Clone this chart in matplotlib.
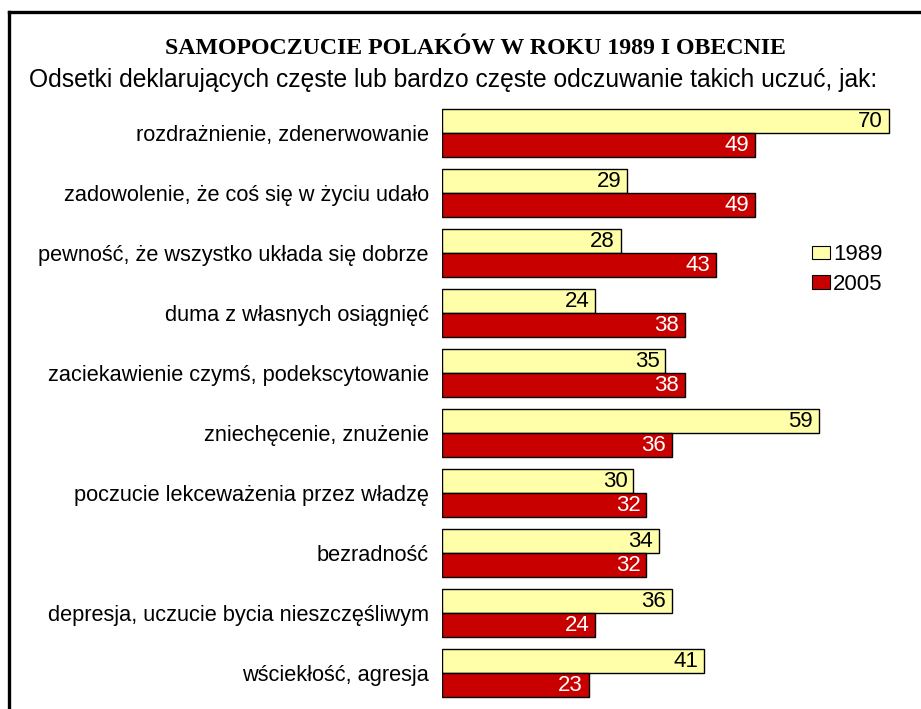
import matplotlib
matplotlib.use('Agg')
import matplotlib.pyplot as plt
import numpy as np
from matplotlib.patches import Patch
from matplotlib.lines import Line2D

# ── data ─────────────────────────────────────────────────────────
categories = [
    'rozdrażnienie, zdenerwowanie',
    'zadowolenie, że coś się w życiu udało',
    'pewność, że wszystko układa się dobrze',
    'duma z własnych osiągnięć',
    'zaciekawienie czymś, podekscytowanie',
    'zniechęcenie, znużenie',
    'poczucie lekceważenia przez władzę',
    'bezradność',
    'depresja, uczucie bycia nieszczęśliwym',
    'wściekłość, agresja',
]
vals_1989 = [70, 29, 28, 24, 35, 59, 30, 34, 36, 41]
vals_2005 = [49, 49, 43, 38, 38, 36, 32, 32, 24, 23]
series_names = ['1989', '2005']

title = 'SAMOPOCZUCIE POLAKÓW W ROKU 1989 I OBECNIE'
subtitle = 'Odsetki deklarujących częste lub bardzo częste odczuwanie takich uczuć, jak:'

yellow = '#FFFFAA'
red = '#C80000'

W, H = 921, 709
fig = plt.figure(figsize=(W / 100, H / 100), dpi=100, facecolor='white')
plt.rcParams['font.family'] = ['Liberation Sans', 'DejaVu Sans']

# axes placed in pixel terms
ax_left, ax_right, ax_top, ax_bot = 442, 892, 103, 703
ax = fig.add_axes([ax_left / W, (H - ax_bot) / H,
                   (ax_right - ax_left) / W, (ax_bot - ax_top) / H])

y = np.arange(len(categories))
bh = 0.4
b1 = ax.barh(y - bh / 2, vals_1989, height=bh, color=yellow,
             edgecolor='black', linewidth=1.0)
b2 = ax.barh(y + bh / 2, vals_2005, height=bh, color=red,
             edgecolor='black', linewidth=1.0)

for rect, v in zip(b1, vals_1989):
    ax.text(v - 0.9, rect.get_y() + rect.get_height() / 2 + 0.01, str(v),
            ha='right', va='center', fontsize=16, color='black')
for rect, v in zip(b2, vals_2005):
    ax.text(v - 0.9, rect.get_y() + rect.get_height() / 2 + 0.01, str(v),
            ha='right', va='center', fontsize=16, color='white')

ax.set_xlim(0, 70.5)
ax.set_ylim(len(categories) - 0.5, -0.5)
ax.set_yticks(y)
ax.set_yticklabels(categories, fontsize=15.7)
ax.tick_params(axis='y', length=0, pad=9.5)
ax.set_xticks([])
for s in ax.spines.values():
    s.set_visible(False)

# titles
fig.text(475 / W, 1 - 48 / H, title, ha='center', va='center',
         fontsize=17.2, fontweight='bold', family=['Liberation Serif', 'DejaVu Serif'])
fig.text(453 / W, 1 - 80 / H, subtitle, ha='center', va='center', fontsize=17.7)

# legend
handles = [Patch(facecolor=yellow, edgecolor='black', linewidth=0.8),
           Patch(facecolor=red, edgecolor='black', linewidth=0.8)]
fig.legend(handles, series_names, loc='upper left',
           bbox_to_anchor=(801 / W, 1 - 233 / H), frameon=False,
           fontsize=16, handlelength=0.8, handleheight=0.55,
           handletextpad=0.15, labelspacing=0.4, borderpad=0)

# outer frame (cut off at right/bottom)
fig.add_artist(Line2D([8.5 / W, 1.0], [1 - 11.5 / H, 1 - 11.5 / H],
                      transform=fig.transFigure, color='black', linewidth=2.4))
fig.add_artist(Line2D([8.5 / W, 8.5 / W], [1 - 11.5 / H, 0.0],
                      transform=fig.transFigure, color='black', linewidth=2.4))

fig.savefig('out.png', dpi=100, facecolor='white')
